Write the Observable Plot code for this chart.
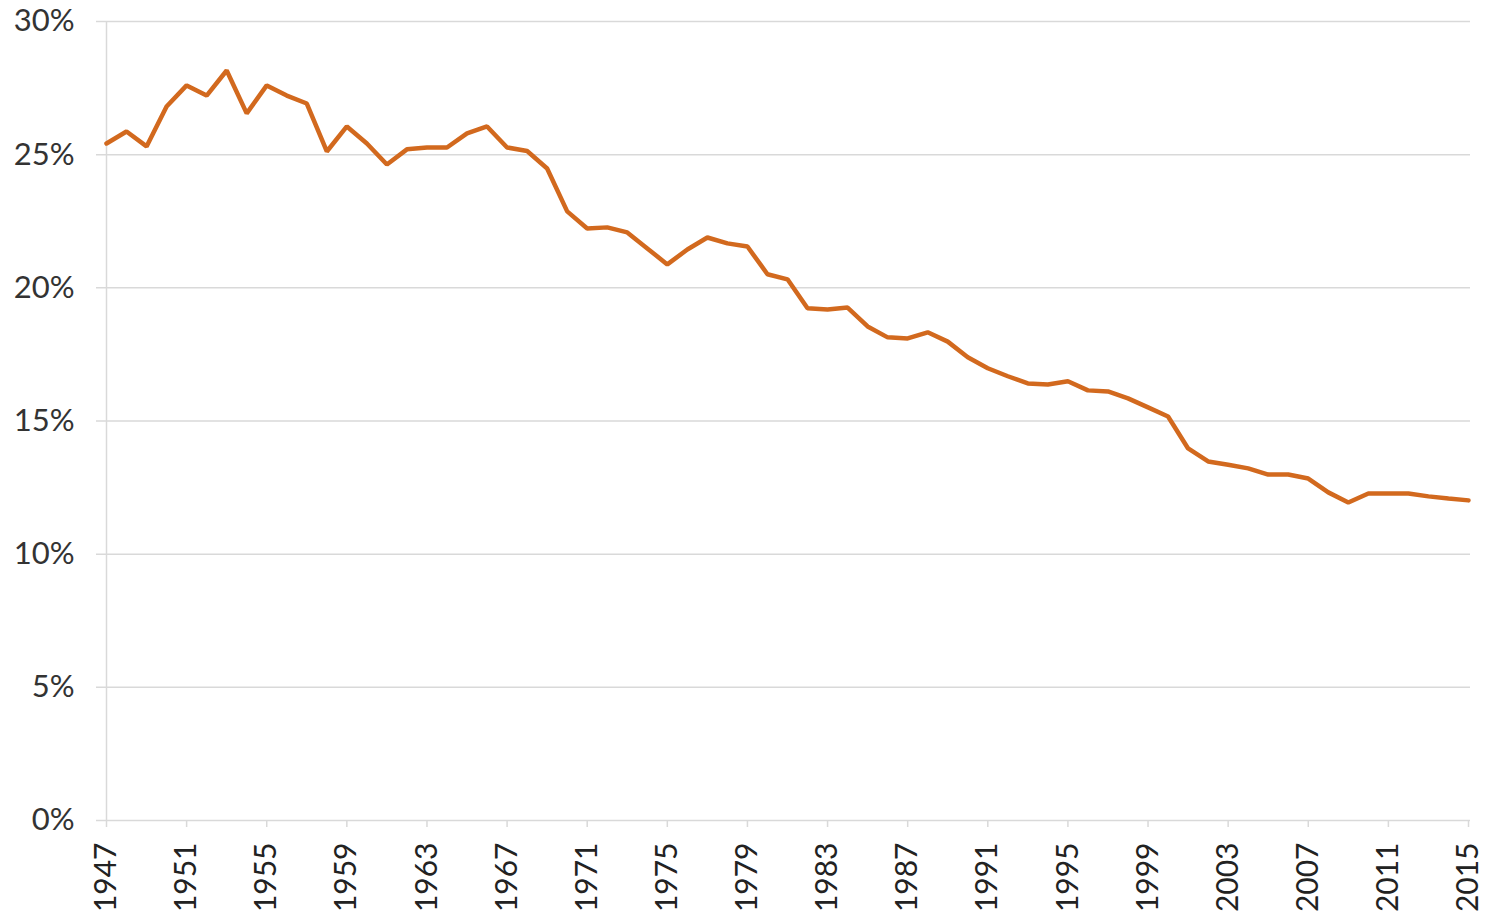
<!DOCTYPE html>
<html>
<head>
<meta charset="utf-8">
<script src="https://cdn.jsdelivr.net/npm/d3@7"></script>
<script src="https://cdn.jsdelivr.net/npm/@observablehq/plot@0.6"></script>
<style>
  html, body { margin: 0; padding: 0; background: #fff; }
  #chart svg { display: block; }
</style>
</head>
<body>
<div id="chart"></div>
<script>
const years = d3.range(1947, 2016);
const values = [
  25.42, 25.87, 25.31, 26.81, 27.60, 27.22, 28.16, 26.55, 27.60, 27.22,
  26.92, 25.12, 26.06, 25.42, 24.63, 25.20, 25.27, 25.27, 25.80, 26.06,
  25.27, 25.14, 24.48, 22.87, 22.23, 22.27, 22.08, 21.48, 20.88, 21.44,
  21.89, 21.67, 21.55, 20.51, 20.32, 19.23, 19.19, 19.26, 18.55, 18.14,
  18.10, 18.33, 17.98, 17.39, 16.98, 16.68, 16.41, 16.37, 16.49, 16.15,
  16.11, 15.85, 15.51, 15.17, 13.97, 13.48, 13.36, 13.22, 12.99, 12.99,
  12.84, 12.32, 11.94, 12.28, 12.28, 12.28, 12.17, 12.09, 12.02
];
const xTicks = d3.range(1947, 2016, 4);
const yTicks = [0, 5, 10, 15, 20, 25, 30];

const data = years.map((year, i) => ({year, value: values[i]}));

const chart = Plot.plot({
  width: 1491,
  height: 916,
  marginLeft: 106,
  marginRight: 23,
  marginTop: 21,
  marginBottom: 96,
  style: {fontFamily: "Lato, 'Open Sans', sans-serif", fontSize: "29px", color: "#333", background: "#fff"},
  x: {domain: [1947, 2015]},
  y: {domain: [0, 30]},
  marks: [
    Plot.ruleY(yTicks, {stroke: "#d9d9d9", strokeWidth: 1.5, insetLeft: -10, insetRight: -2}),
    Plot.ruleX([1947], {stroke: "#d9d9d9", strokeWidth: 1.5, y1: 0, y2: 30}),
    Plot.axisY({ticks: yTicks, tickFormat: d => d + "%", tickSize: 0, tickPadding: 32, label: null, fontSize: 31, fill: "#333"}),
    Plot.axisX({ticks: xTicks, tickFormat: d => String(d), tickRotate: -90, tickSize: 7, tickPadding: 15, stroke: "#d9d9d9", strokeWidth: 1.5, strokeOpacity: 1, label: null, fontSize: 30, fill: "#222"}),
    Plot.line(data, {x: "year", y: "value", stroke: "#D2691E", strokeWidth: 4.5, strokeLinejoin: "miter"})
  ]
});
document.getElementById("chart").appendChild(chart);
</script>
</body>
</html>
